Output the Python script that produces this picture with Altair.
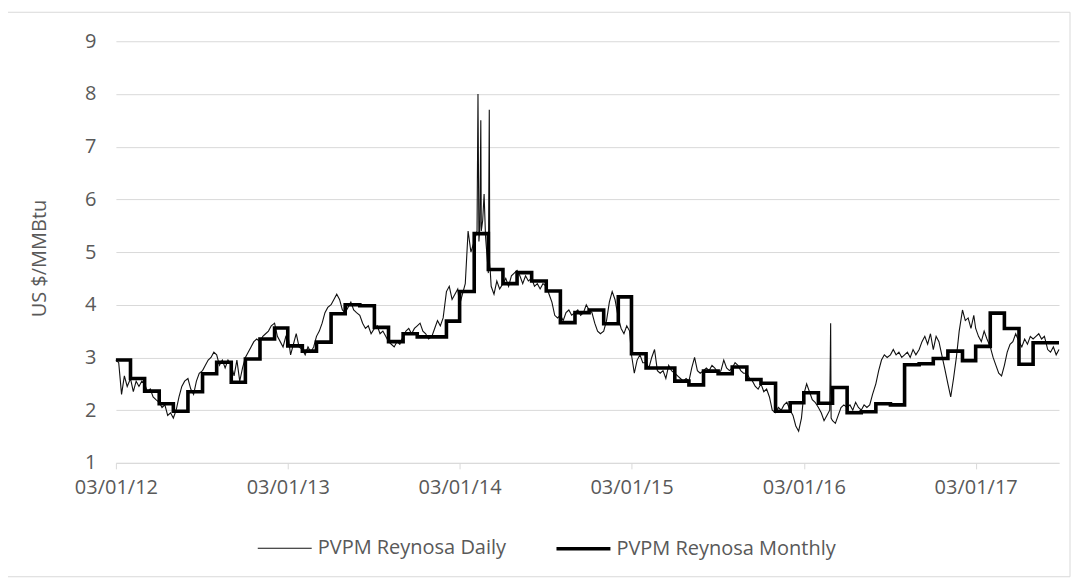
import altair as alt
import pandas as pd

# ---------------- data ----------------
month_starts = pd.date_range("2012-03-01", "2017-08-01", freq="MS")
end_date = "2017-08-25"

monthly_values = [
    2.95, 2.60, 2.36, 2.12, 1.98, 2.35, 2.69, 2.91, 2.53, 2.97,   # Mar12-Dec12
    3.35, 3.56, 3.22, 3.12, 3.29, 3.83, 4.00, 3.98, 3.57, 3.30, 3.45, 3.39,  # 2013
    3.39, 3.69, 4.25, 5.35, 4.67, 4.40, 4.61, 4.45, 4.26, 3.66, 3.85, 3.90,  # 2014
    3.64, 4.15, 3.07, 2.80, 2.80, 2.55, 2.48, 2.74, 2.69, 2.82, 2.58, 2.51,  # 2015
    1.98, 2.14, 2.33, 2.13, 2.43, 1.95, 1.97, 2.12, 2.10, 2.86, 2.88, 2.98,  # 2016
    3.12, 2.94, 3.21, 3.84, 3.55, 2.87, 3.28, 3.28,                          # 2017
]

daily_days = [1, 7, 13, 19, 25]
daily_by_month = [
    [2.95, 2.90, 2.30, 2.65, 2.45], [2.60, 2.35, 2.55, 2.45, 2.55],
    [2.50, 2.35, 2.40, 2.25, 2.20], [2.15, 2.05, 2.10, 1.90, 1.95],
    [1.85, 2.00, 2.25, 2.45, 2.55], [2.60, 2.40, 2.30, 2.55, 2.70],
    [2.75, 2.85, 2.95, 3.00, 3.10], [3.05, 2.85, 2.95, 2.80, 2.95],
    [2.85, 2.65, 2.95, 2.55, 2.80], [3.00, 3.10, 3.20, 3.30, 3.35],
    [3.30, 3.40, 3.45, 3.50, 3.60], [3.65, 3.40, 3.30, 3.20, 3.40],
    [3.45, 3.05, 3.25, 3.45, 3.20], [3.15, 3.05, 3.20, 3.10, 3.20],
    [3.40, 3.50, 3.65, 3.85, 3.95], [4.00, 4.10, 4.20, 4.10, 3.90],
    [3.85, 3.95, 4.05, 3.90, 3.85], [3.80, 3.65, 3.55, 3.60, 3.45],
    [3.55, 3.60, 3.45, 3.50, 3.40], [3.30, 3.25, 3.20, 3.30, 3.25],
    [3.40, 3.50, 3.55, 3.45, 3.55], [3.60, 3.65, 3.50, 3.45, 3.35],
    [3.40, 3.55, 3.70, 3.60, 3.75], [4.25, 4.35, 4.10, 4.20, 4.30],
    [4.00, 4.20, 4.40, 5.40, 5.00], [5.20, 5.40, 5.50, 5.60, 5.30],
    [4.60, 4.35, 4.20, 4.45, 4.30], [4.40, 4.50, 4.35, 4.55, 4.60],
    [4.65, 4.55, 4.40, 4.55, 4.45], [4.50, 4.35, 4.40, 4.30, 4.40],
    [4.35, 4.20, 4.05, 3.80, 3.75], [3.80, 3.70, 3.85, 3.90, 3.80],
    [3.85, 3.90, 3.80, 3.85, 4.00], [3.90, 3.85, 3.65, 3.50, 3.45],
    [3.50, 3.70, 4.05, 4.25, 4.10], [3.75, 3.55, 3.45, 3.60, 3.50],
    [3.05, 2.70, 2.95, 3.05, 2.90], [2.90, 2.80, 3.00, 3.15, 2.75],
    [2.70, 2.75, 2.60, 2.85, 2.75], [2.70, 2.65, 2.60, 2.55, 2.60],
    [2.55, 2.80, 3.00, 2.75, 2.70], [2.75, 2.80, 2.75, 2.85, 2.80],
    [2.70, 2.75, 2.95, 2.80, 2.75], [2.80, 2.90, 2.85, 2.75, 2.70],
    [2.70, 2.60, 2.55, 2.45, 2.40], [2.50, 2.35, 2.40, 2.25, 2.00],
    [1.95, 2.05, 2.00, 2.10, 2.15], [2.00, 1.90, 1.70, 1.60, 1.85],
    [2.30, 2.50, 2.35, 2.20, 2.15], [2.05, 1.95, 1.80, 1.90, 2.00],
    [1.80, 1.75, 1.90, 2.05, 2.10], [2.05, 2.10, 2.00, 2.15, 2.05],
    [2.00, 2.10, 2.05, 2.10, 2.30], [2.50, 2.75, 2.95, 3.05, 3.00],
    [3.05, 3.15, 3.05, 3.10, 3.00], [3.05, 3.10, 3.00, 3.15, 3.05],
    [3.15, 3.30, 3.40, 3.25, 3.45], [3.15, 3.40, 3.30, 3.05, 2.80],
    [2.50, 2.25, 2.60, 3.00, 3.50], [3.90, 3.70, 3.75, 3.55, 3.80],
    [3.55, 3.40, 3.30, 3.50, 3.35], [3.20, 3.00, 2.85, 2.70, 2.65],
    [2.85, 3.10, 3.25, 3.30, 3.45], [3.30, 3.20, 3.35, 3.25, 3.40],
    [3.35, 3.40, 3.45, 3.35, 3.40], [3.15, 3.10, 3.20, 3.05, 3.15],
]

spike_dates = ["2014-04-09", "2014-04-11", "2014-04-15", "2014-04-16",
               "2014-04-22", "2014-05-03", "2014-05-04",
               "2016-04-27", "2016-04-28"]
spike_values = [8.0, 5.2, 7.5, 5.4, 6.1, 7.7, 4.8, 3.65, 1.85]

x_tick_dates = ["2012-03-01", "2013-03-01", "2014-03-01",
                "2015-03-01", "2016-03-01", "2017-03-01"]
y_ticks = [1, 2, 3, 4, 5, 6, 7, 8, 9]

DAILY = "PVPM Reynosa Daily"
MONTHLY = "PVPM Reynosa Monthly"

# ---------------- tables ----------------
d_dates, d_vals = [], []
for m, vals in zip(month_starts, daily_by_month):
    for d, v in zip(daily_days, vals):
        d_dates.append(m.replace(day=d))
        d_vals.append(v)
for s, v in zip(spike_dates, spike_values):
    d_dates.append(pd.Timestamp(s))
    d_vals.append(v)
daily = pd.DataFrame({"date": d_dates, "value": d_vals})
daily = daily.sort_values("date")
daily["date"] = daily["date"].dt.strftime("%Y-%m-%d")
daily["series"] = DAILY

m_dates = [m.strftime("%Y-%m-%d") for m in month_starts] + [end_date]
m_vals = monthly_values + [monthly_values[-1]]
monthly = pd.DataFrame({"date": m_dates, "value": m_vals, "series": MONTHLY})


def dt(s):
    y, mo, d = (int(p) for p in s.split("-"))
    return alt.DateTime(year=y, month=mo, date=d, utc=True)


FONT = "Open Sans"
TXT = "#595959"
GRID = "#d9d9d9"
W, H = 944, 422

x_enc = alt.X(
    "date:T",
    scale=alt.Scale(type="utc", domain=[dt("2012-03-01"), dt(end_date)]),
    axis=alt.Axis(
        title=None, values=[dt(s) for s in x_tick_dates], format="%m/%d/%y",
        grid=False, domainColor=GRID, domainWidth=1, tickColor=GRID,
        tickSize=6, labelFontSize=20, labelColor=TXT, labelPadding=9,
        labelFont=FONT, labelFlush=False, labelAlign="center",
    ),
)
y_enc = alt.Y(
    "value:Q",
    scale=alt.Scale(domain=[1, 9], nice=False, zero=False),
    axis=alt.Axis(
        title="US $/MMBtu", values=y_ticks, ticks=False, domain=False,
        gridColor=GRID, gridWidth=1, labelFontSize=20, labelColor=TXT,
        labelPadding=20, labelFont=FONT, titleFontSize=20, titleColor=TXT,
        titleFontWeight="normal", titleFont=FONT, titleX=-66, titleY=217,
    ),
)
legend_kw = dict(
    title=None, orient="none", direction="horizontal", columns=2,
    legendX=140, legendY=479, symbolType="stroke", symbolSize=2916,
    labelFontSize=20, labelColor=TXT, labelFont=FONT, labelOffset=4,
    labelLimit=0, columnPadding=42, padding=0,
)
color_enc = alt.Color(
    "series:N",
    scale=alt.Scale(domain=[DAILY, MONTHLY], range=["#111111", "#000000"]),
    legend=alt.Legend(**legend_kw),
)
sw_enc = alt.StrokeWidth(
    "series:N",
    scale=alt.Scale(domain=[DAILY, MONTHLY], range=[1.1, 3.6]),
    legend=alt.Legend(**legend_kw),
)

daily_line = alt.Chart(daily).mark_line(interpolate="linear").encode(
    x=x_enc, y=y_enc, color=color_enc, strokeWidth=sw_enc
)
monthly_line = alt.Chart(monthly).mark_line(interpolate="step-after").encode(
    x=x_enc, y=y_enc, color=color_enc, strokeWidth=sw_enc
)

frame = alt.Chart(pd.DataFrame({"a": [0]})).mark_rect(
    fill="transparent", stroke=GRID, strokeWidth=1
).encode(
    x=alt.value(-109), x2=alt.value(955), y=alt.value(-29), y2=alt.value(536)
)

chart = alt.layer(frame, daily_line, monthly_line).properties(
    width=W, height=H,
    padding={"left": 108, "top": 33, "right": 12, "bottom": 118},
    autosize=alt.AutoSizeParams(type="none"),
).configure(font=FONT).configure_view(strokeWidth=0)

chart.save("out.html", embed_options={"renderer": "svg", "actions": False})
